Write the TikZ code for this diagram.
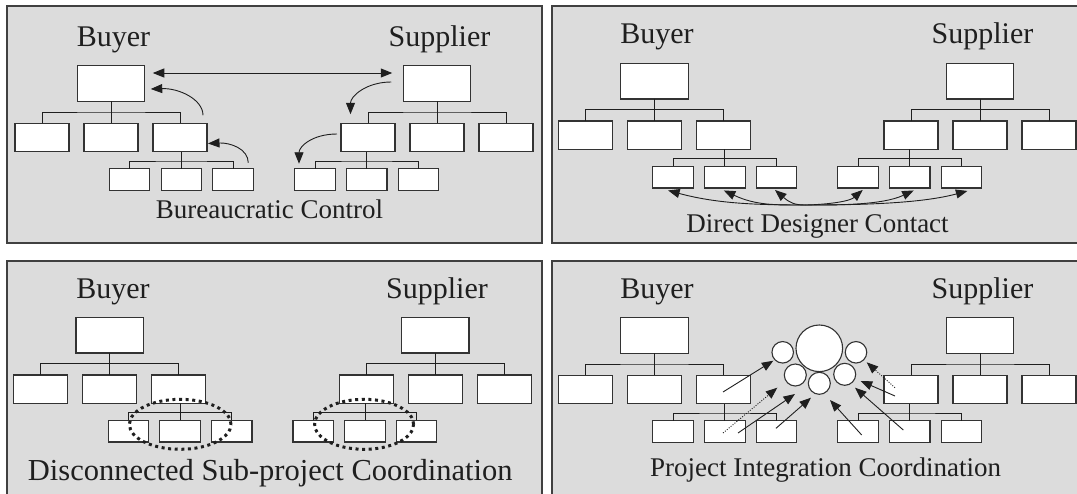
\documentclass[tikz,border=0pt]{standalone}
\usepackage{fontspec}
\setmainfont{Liberation Serif}
\usetikzlibrary{arrows.meta,calc,shapes.geometric}

\definecolor{panelfill}{gray}{0.863}
\definecolor{panelline}{gray}{0.25}
\definecolor{boxline}{gray}{0.2}
\definecolor{ink}{gray}{0.12}

\tikzset{
  panel/.style={fill=panelfill, draw=panelline, line width=1.3pt},
  topbox/.style={draw=boxline, fill=white, line width=1.1pt, minimum width=67.5pt,
    minimum height=35.5pt, inner sep=0pt, outer sep=0pt},
  midbox/.style={topbox, minimum width=54pt, minimum height=28.5pt},
  lowbox/.style={topbox, minimum width=40.5pt, minimum height=21.5pt},
  tree/.style={draw=ink, line width=0.9pt},
  head/.style={font=\fontsize{30}{30}\selectfont, text=ink, anchor=base, inner sep=0pt},
  caption/.style={font=\fontsize{27}{27}\selectfont, text=ink, anchor=base, inner sep=0pt},
  tip/.tip={Triangle[length=11.5pt,width=9pt]},
  arr/.style={draw=ink, line width=0.9pt, -tip},
  darr/.style={arr, tip-tip},
  dotarr/.style={arr, dash pattern=on 1pt off 1.5pt},
  ring/.style={circle, draw=boxline, fill=white, line width=1.1pt, inner sep=0pt},
  group/.style={ellipse, draw=ink, line width=3pt, dash pattern=on 3pt off 3.6pt, inner sep=0pt},
  % one organisation: top box, three departments, three sub-units under
  % the department on the side given by the argument (1 = right, -1 = left)
  pics/orgchart/.style={code={
    \node[topbox] (-top) at (0,0) {};
    \node[midbox] (-m1) at (-69,54) {};
    \node[midbox] (-m2) at (0,54) {};
    \node[midbox] (-m3) at (69,54) {};
    \node[lowbox] (-l1) at (#1*70.3-51.7,96) {};
    \node[lowbox] (-l2) at (#1*70.3,96) {};
    \node[lowbox] (-l3) at (#1*70.3+51.7,96) {};
    \coordinate (-bus) at (0,28.5);
    \coordinate (-lbus) at (#1*70.3,77.5);
    \coordinate (-up) at (#1*70.3,68.25);
    \draw[tree] (-top.south) -- (-m2.north);
    \draw[tree] (-m1.north) |- (-bus) -| (-m3.north);
    \draw[tree] (-l1.north) |- (-lbus) -| (-l3.north);
    \draw[tree] (-l2.north) -- (-up);
  }}
}

\begin{document}
\begin{tikzpicture}[x=1pt,y=-1pt]
\useasboundingbox (0,0) rectangle (1077,493);

% four panels
\path[panel] (7,6) rectangle (542,243);
\path[panel] (552,6) rectangle (1090,243);
\path[panel] (7,261) rectangle (542,505);
\path[panel] (552,261) rectangle (1090,505);

% ---------- Bureaucratic Control ----------
\pic (p1b) at (111,83.5) {orgchart=1};
\pic (p1s) at (437,83.5) {orgchart=-1};
\node[head] (p1buyer) at (113.5,46.7) {Buyer};
\node[head] (p1supplier) at (439.5,46.7) {Supplier};
\node[caption] (p1cap) at (269.5,218.5) {Bureaucratic Control};
\draw[darr] ($(p1b-top.east)+(8,-10.5)$) -- ($(p1s-top.west)+(-11,-10.5)$);
\draw[arr] ($(p1b-m3.north east)+(-4,-8)$) .. controls +(0,-16) and +(28,-1) .. ($(p1b-top.east)+(6,5.5)$);
\draw[arr] ($(p1b-l3.north east)+(-5,-6)$) .. controls +(0,-14) and +(22,-1) .. ($(p1b-m3.east)+(1,6)$);
\draw[arr] ($(p1s-top.west)+(-12,-1.5)$) .. controls +(-25,0) and +(0,-18) .. ($(p1s-m1.north)+(-17.5,-9)$);
\draw[arr] ($(p1s-m1.west)+(-4,-3.5)$) .. controls +(-25,0) and +(0,-17) .. ($(p1s-l1.north)+(-16,-5)$);

% ---------- Direct Designer Contact ----------
\pic (p2b) at (654.5,81.2) {orgchart=1};
\pic (p2s) at (980,81.2) {orgchart=-1};
\node[head] (p2buyer) at (657,43.3) {Buyer};
\node[head] (p2supplier) at (982.5,43.3) {Supplier};
\node[caption] (p2cap) at (817.5,232.7) {Direct Designer Contact};
\coordinate (p2hub) at (805,205);
\draw[arr] (p2hub) .. controls +(-50,0) and +(48,13) .. ($(p2b-l1.south)+(-5,2.5)$);
\draw[arr] (p2hub) .. controls +(-30,0) and +(32,15) .. ($(p2b-l2.south)+(-1,2.5)$);
\draw[arr] (p2hub) .. controls +(-10,0) and +(15,13) .. ($(p2b-l3.south)+(-1.5,2)$);
\draw[arr] (p2hub) .. controls +(10,0) and +(-15,13) .. ($(p2s-l1.south)+(4.7,2)$);
\draw[arr] (p2hub) .. controls +(30,0) and +(-32,15) .. ($(p2s-l2.south)+(4,2.5)$);
\draw[arr] (p2hub) .. controls +(50,0) and +(-48,13) .. ($(p2s-l3.south)+(6,3)$);

% ---------- Disconnected Sub-project Coordination ----------
\pic (p3b) at (109.75,335.2) {orgchart=1};
\pic (p3s) at (435.25,335.2) {orgchart=-1};
\node[head] (p3buyer) at (113,298.3) {Buyer};
\node[head] (p3supplier) at (437,298.3) {Supplier};
\node[caption, font=\fontsize{30.5}{30.5}\selectfont] (p3cap) at (270.2,480) {Disconnected Sub-project Coordination};
\node[group, minimum width=101.6pt, minimum height=50pt] (p3bgroup) at (180.2,424.3) {};
\node[group, minimum width=99pt, minimum height=50pt] (p3sgroup) at (364.1,424.3) {};

% ---------- Project Integration Coordination ----------
\pic (p4b) at (654.5,335.5) {orgchart=1};
\pic (p4s) at (980,335.5) {orgchart=-1};
\node[head] (p4buyer) at (657,298.3) {Buyer};
\node[head] (p4supplier) at (982.5,298.3) {Supplier};
\node[caption] (p4cap) at (825.5,476.7) {Project Integration Coordination};
\node[ring, minimum size=46.6pt] (p4big) at (819.3,348.3) {};
\node[ring, minimum size=21.5pt] (p4ul) at (782.7,352.3) {};
\node[ring, minimum size=21.5pt] (p4ur) at (856,352.3) {};
\node[ring, minimum size=22pt] (p4ml) at (795.3,375) {};
\node[ring, minimum size=22pt] (p4bc) at (819.3,383.3) {};
\node[ring, minimum size=22pt] (p4mr) at (844.7,374.3) {};
\coordinate (p4aS) at (723,392);   \coordinate (p4aE) at (773.3,360.7);
\coordinate (p4bS) at (723,433);   \coordinate (p4bE) at (777.3,387.7);
\coordinate (p4cS) at (738,433);   \coordinate (p4cE) at (795,394);
\coordinate (p4dS) at (776,428.3); \coordinate (p4dE) at (811,397.7);
\coordinate (p4eS) at (861.7,435); \coordinate (p4eE) at (830,400);
\coordinate (p4fS) at (903.3,430); \coordinate (p4fE) at (855,387.7);
\coordinate (p4gS) at (895,396);   \coordinate (p4gE) at (860.7,381);
\coordinate (p4hS) at (895,387.7); \coordinate (p4hE) at (866.7,362.3);
\draw[arr] (p4aS) -- (p4aE);
\draw[dotarr] (p4bS) -- (p4bE);
\draw[arr] (p4cS) -- (p4cE);
\draw[arr] (p4dS) -- (p4dE);
\draw[arr] (p4eS) -- (p4eE);
\draw[arr] (p4fS) -- (p4fE);
\draw[arr] (p4gS) -- (p4gE);
\draw[dotarr] (p4hS) -- (p4hE);
\end{tikzpicture}
\end{document}
